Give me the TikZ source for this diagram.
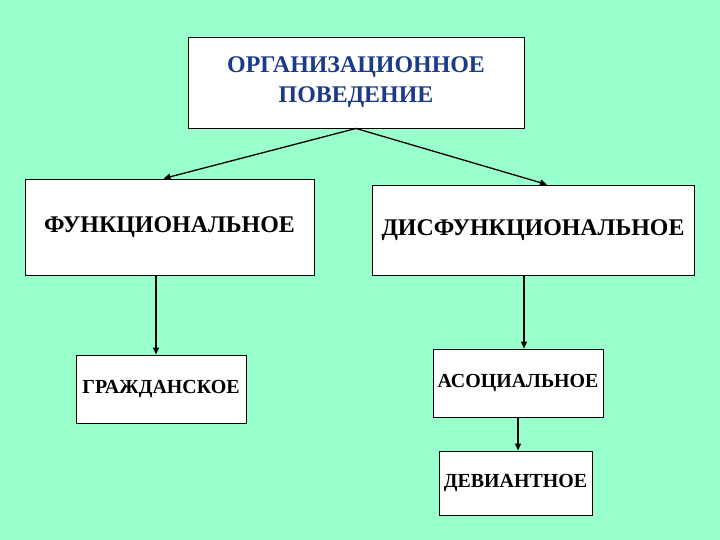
\documentclass[tikz,border=0pt]{standalone}
\usepackage{fontspec}
\setmainfont{Liberation Serif}
\usepackage{xcolor}
\usepackage{tikz}
\usetikzlibrary{arrows.meta, positioning, calc}
\definecolor{mintbg}{HTML}{99FFCC}
\definecolor{titleblue}{HTML}{1C3A8A}

\begin{document}
\begin{tikzpicture}[
  x=1bp, y=-1bp,
  box/.style={rectangle, draw=black, line width=0.9bp, fill=white, inner sep=0pt, align=center, font=\fontsize{24}{30}\selectfont\bfseries},
  smallbox/.style={box, font=\fontsize{20}{24}\selectfont\bfseries},
  arrow/.style={-{Triangle[length=7bp, width=6bp]}, line width=1.3bp}
]
  % Background
  \fill[mintbg] (0,0) rectangle (720,540);
  \useasboundingbox (0,0) rectangle (720,540);

  % Top
  \node[box, minimum width=336bp, minimum height=91bp, text=titleblue] (org) at (356,82.5) {ОРГАНИЗАЦИОННОЕ\\ПОВЕДЕНИЕ};

  % Second level
  \node[box, minimum width=289bp, minimum height=96bp] (func) at (169.5,227) {ФУНКЦИОНАЛЬНОЕ};
  \node[box, minimum width=322bp, minimum height=90bp] (dysfunc) at (533,230) {ДИСФУНКЦИОНАЛЬНОЕ};

  % Third level
  \node[smallbox, minimum width=170bp, minimum height=68bp] (civil) at (161,389) {ГРАЖДАНСКОЕ};
  \node[smallbox, minimum width=170bp, minimum height=68bp] (asocial) at (518,383) {АСОЦИАЛЬНОЕ};
  \node[smallbox, minimum width=153bp, minimum height=64bp] (deviant) at (515.5,483) {ДЕВИАНТНОЕ};

  % Arrows
  \draw[arrow] (org.south) -- ([xshift=-6bp]func.north);
  \draw[arrow] (org.south) -- ([xshift=14bp]dysfunc.north);
  \draw[arrow] ([xshift=-5bp]civil.north |- func.south) -- ([xshift=-5bp]civil.north);
  \draw[arrow] ([xshift=6bp]asocial.north |- dysfunc.south) -- ([xshift=6bp]asocial.north);
  \draw[arrow] (asocial.south) -- (asocial.south |- deviant.north);
\end{tikzpicture}
\end{document}
